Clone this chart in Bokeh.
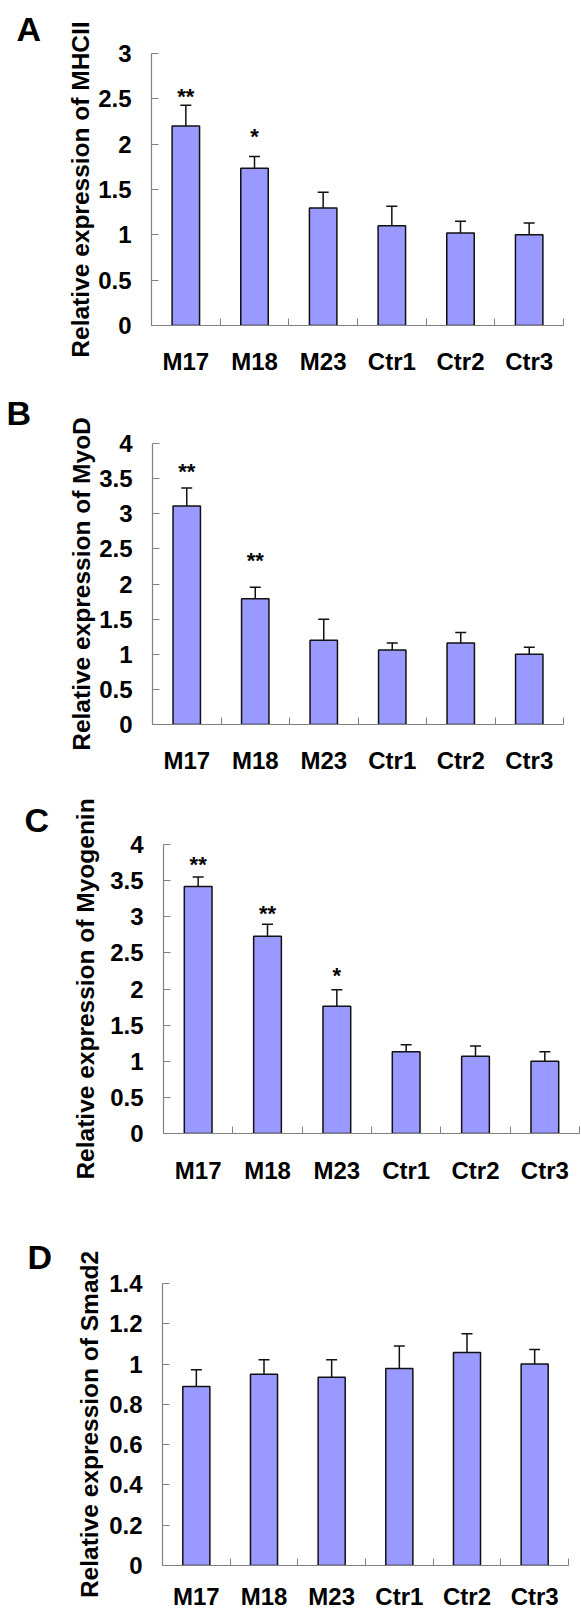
from bokeh.plotting import figure
from bokeh.models import Range1d, FixedTicker, ColumnDataSource, Whisker, TeeHead
from bokeh.layouts import column
from bokeh.embed import file_html
from bokeh.resources import INLINE
from bokeh.core.properties import value

# ---------------- data ----------------
categories = ["M17", "M18", "M23", "Ctr1", "Ctr2", "Ctr3"]

# Panel A - MHCII
mhcii_mean = [2.20, 1.735, 1.295, 1.10, 1.02, 1.00]
mhcii_sd = [0.23, 0.13, 0.175, 0.215, 0.13, 0.13]
mhcii_sig = ["**", "*", "", "", "", ""]
mhcii_sig_y = [2.53, 2.08, 0, 0, 0, 0]
mhcii_ticks = [0, 0.5, 1, 1.5, 2, 2.5, 3]
mhcii_tick_labels = ["0", "0.5", "1", "1.5", "2", "2.5", "3"]

# Panel B - MyoD
myod_mean = [3.11, 1.79, 1.20, 1.06, 1.16, 1.00]
myod_sd = [0.255, 0.165, 0.30, 0.10, 0.15, 0.10]
myod_sig = ["**", "**", "", "", "", ""]
myod_sig_y = [3.60, 2.33, 0, 0, 0, 0]
myod_ticks = [0, 0.5, 1, 1.5, 2, 2.5, 3, 3.5, 4]
myod_tick_labels = ["0", "0.5", "1", "1.5", "2", "2.5", "3", "3.5", "4"]

# Panel C - Myogenin
myog_mean = [3.42, 2.73, 1.76, 1.13, 1.07, 1.00]
myog_sd = [0.13, 0.165, 0.23, 0.10, 0.14, 0.13]
myog_sig = ["**", "**", "*", "", "", ""]
myog_sig_y = [3.72, 3.05, 2.18, 0, 0, 0]
myog_ticks = [0, 0.5, 1, 1.5, 2, 2.5, 3, 3.5, 4]
myog_tick_labels = ["0", "0.5", "1", "1.5", "2", "2.5", "3", "3.5", "4"]

# Panel D - Smad2
smad2_mean = [0.889, 0.949, 0.934, 0.978, 1.057, 1.00]
smad2_sd = [0.083, 0.072, 0.087, 0.112, 0.094, 0.072]
smad2_sig = ["", "", "", "", "", ""]
smad2_sig_y = [0, 0, 0, 0, 0, 0]
smad2_ticks = [0, 0.2, 0.4, 0.6, 0.8, 1, 1.2, 1.4]
smad2_tick_labels = ["0", "0.2", "0.4", "0.6", "0.8", "1", "1.2", "1.4"]

# ---------------- style ----------------
FONT = "Liberation Sans"
BAR_FILL = "#9999FF"
EDGE = "#111111"
AXIS = "#808080"


def panel(letter, ytitle, mean, sd, sig, sig_y, ticks, tick_labels, *,
          height, top, bottom, left, right, x_standoff, title_standoff,
          letter_offset, letter_standoff):
    n = len(categories)
    xs = [i + 0.5 for i in range(n)]
    upper = [m + s for m, s in zip(mean, sd)]
    src = ColumnDataSource(dict(x=xs, mean=mean, upper=upper, sig=sig, sig_y=sig_y))

    p = figure(width=581, height=height, x_range=Range1d(0, n),
               y_range=Range1d(0, ticks[-1]), output_backend="svg",
               toolbar_location=None, min_border_top=top, min_border_bottom=bottom,
               min_border_left=left, min_border_right=right)
    p.frame_align = False
    p.outline_line_color = None
    p.xgrid.visible = False
    p.ygrid.visible = False
    p.background_fill_color = "white"
    p.border_fill_color = "white"

    # panel letter as the plot title
    p.title.text = letter
    p.title.align = "left"
    p.title.offset = letter_offset
    p.title.standoff = letter_standoff
    p.title.text_font = FONT
    p.title.text_font_style = "bold"
    p.title.text_font_size = "34px"
    p.title.text_color = "black"

    p.vbar(x="x", top="mean", bottom=0, width=0.4, source=src,
           fill_color=BAR_FILL, line_color=EDGE, line_width=1.5)

    w = Whisker(base="x", lower="mean", upper="upper", source=src,
                line_color=EDGE, line_width=1.5, level="overlay",
                upper_head=TeeHead(size=11, line_color=EDGE, line_width=1.5),
                lower_head=None)
    p.add_layout(w)

    p.text(x="x", y="sig_y", text="sig", source=src, text_font=value(FONT),
           text_font_size=value("22px"), text_font_style=value("bold"),
           text_align="center", text_baseline="alphabetic", text_color="black")

    xa = p.xaxis[0]
    xa.ticker = FixedTicker(ticks=xs, minor_ticks=list(range(n + 1)))
    xa.major_label_overrides = {x: c for x, c in zip(xs, categories)}
    xa.major_tick_line_color = None
    xa.major_tick_in = 0
    xa.major_tick_out = 0
    xa.minor_tick_in = 7
    xa.minor_tick_out = 0
    xa.minor_tick_line_color = AXIS
    xa.axis_line_color = AXIS
    xa.axis_line_width = 1.2
    xa.major_label_standoff = x_standoff
    xa.major_label_text_font = FONT
    xa.major_label_text_font_style = "bold"
    xa.major_label_text_font_size = "24px"
    xa.major_label_text_color = "black"

    ya = p.yaxis[0]
    ya.ticker = FixedTicker(ticks=ticks)
    ya.major_label_overrides = {t: l for t, l in zip(ticks, tick_labels)}
    ya.major_tick_in = 7
    ya.major_tick_out = 0
    ya.major_tick_line_color = AXIS
    ya.minor_tick_line_color = None
    ya.axis_line_color = AXIS
    ya.axis_line_width = 1.2
    ya.major_label_standoff = 20
    ya.major_label_text_font = FONT
    ya.major_label_text_font_style = "bold"
    ya.major_label_text_font_size = "24px"
    ya.major_label_text_color = "black"
    ya.axis_label = ytitle
    ya.axis_label_standoff = title_standoff
    ya.axis_label_text_font = FONT
    ya.axis_label_text_font_style = "bold"
    ya.axis_label_text_font_size = "24.5px"
    ya.axis_label_text_color = "black"
    return p


pA = panel("A", "Relative expression of MHCII", mhcii_mean, mhcii_sd, mhcii_sig,
           mhcii_sig_y, mhcii_ticks, mhcii_tick_labels,
           height=377, top=53, bottom=50, left=151, right=18,
           x_standoff=22, title_standoff=1, letter_offset=-135, letter_standoff=12)
pB = panel("B", "Relative expression of MyoD", myod_mean, myod_sd, myod_sig,
           myod_sig_y, myod_ticks, myod_tick_labels,
           height=413, top=66, bottom=66, left=152, right=18,
           x_standoff=22, title_standoff=1, letter_offset=-146, letter_standoff=24)
pC = panel("C", "Relative expression of Myogenin", myog_mean, myog_sd, myog_sig,
           myog_sig_y, myog_ticks, myog_tick_labels,
           height=410, top=54, bottom=67, left=163, right=2,
           x_standoff=23, title_standoff=8, letter_offset=-139, letter_standoff=11)
pD = panel("D", "Relative expression of Smad2", smad2_mean, smad2_sd, smad2_sig,
           smad2_sig_y, smad2_ticks, smad2_tick_labels,
           height=412, top=83, bottom=45, left=162, right=13,
           x_standoff=17, title_standoff=3, letter_offset=-135, letter_standoff=15)

layout = column(pA, pB, pC, pD, spacing=0)
open("out.html", "w").write(file_html(layout, INLINE))
